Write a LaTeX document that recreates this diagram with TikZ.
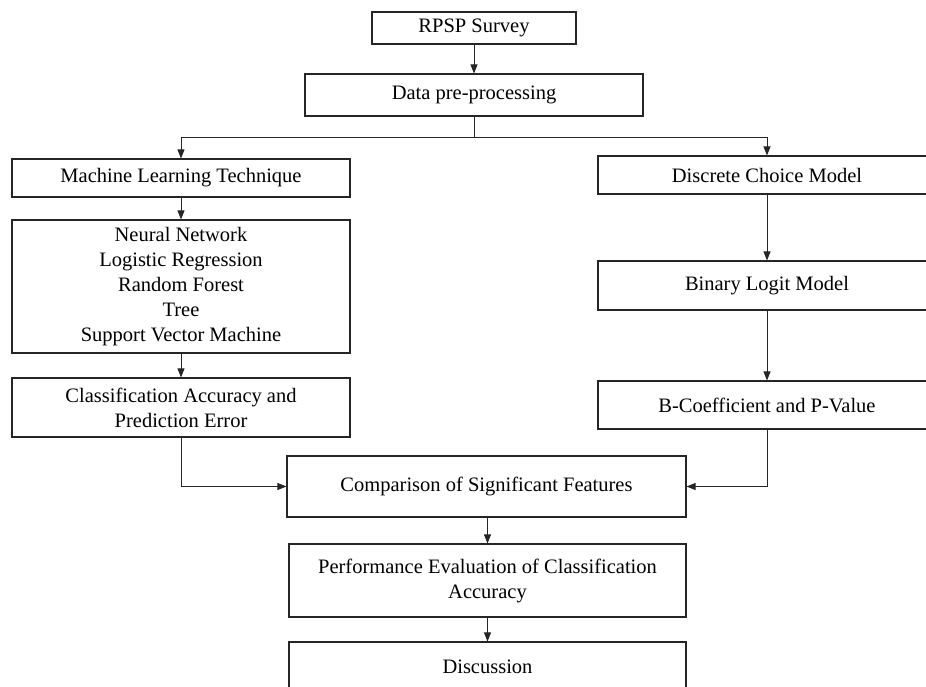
\documentclass[tikz,border=0pt]{standalone}
\usepackage{fontspec}
\setmainfont{Liberation Serif}
\usetikzlibrary{arrows.meta}

\tikzset{
  block/.style={draw=black!85,line width=1.1pt,align=center,inner sep=0pt,
    font=\fontsize{20.5}{25}\selectfont},
  link/.style={draw=black!85,line width=0.8pt},
  arr/.style={link,-{Triangle[length=9pt,width=7pt]}}
}

\begin{document}
\begin{tikzpicture}[x=1pt,y=-1pt]
\useasboundingbox (0,0) rectangle (926,686);
\clip (0,0) rectangle (926,686);

% top
\node[block,minimum width=204pt,minimum height=32pt] (survey) at (474,28) {RPSP Survey};
\node[block,minimum width=338pt,minimum height=42pt] (prep) at (474,95) {Data pre-processing};
\coordinate (split) at (474,137);

% left branch
\node[block,minimum width=338pt,minimum height=38pt] (ml) at (181,178) {Machine Learning Technique};
\node[block,minimum width=338pt,minimum height=133pt] (algos) at (181,286.5)
  {Neural Network\\Logistic Regression\\Random Forest\\Tree\\Support Vector Machine};
\node[block,minimum width=338pt,minimum height=59pt] (acc) at (181,407.5)
  {Classification Accuracy and\\Prediction Error};

% right branch
\node[block,minimum width=338pt,minimum height=38pt] (dcm) at (767,175) {Discrete Choice Model};
\node[block,minimum width=338pt,minimum height=49pt] (logit) at (767,285.5) {Binary Logit Model};
\node[block,minimum width=338pt,minimum height=48pt] (coef) at (767,405) {B-Coefficient and P-Value};

% bottom
\node[block,minimum width=399pt,minimum height=61pt] (comp) at (486.5,486.5) {Comparison of Significant Features};
\node[block,minimum width=397pt,minimum height=73pt] (perf) at (487.5,580.5)
  {Performance Evaluation of Classification\\Accuracy};
\node[block,minimum width=397pt,minimum height=50pt] (disc) at (487.5,667) {Discussion};

% connectors
\draw[arr] (survey) -- (prep);
\draw[link] (prep) -- (split);
\draw[arr] (split) -| (ml);
\draw[arr] (split) -| (dcm);
\draw[arr] (ml) -- (algos);
\draw[arr] (algos) -- (acc);
\draw[arr] (dcm) -- (logit);
\draw[arr] (logit) -- (coef);
\draw[arr] (acc) |- (comp);
\draw[arr] (coef) |- (comp);
\draw[arr] (comp.south -| perf) -- (perf);
\draw[arr] (perf) -- (disc);
\end{tikzpicture}
\end{document}
